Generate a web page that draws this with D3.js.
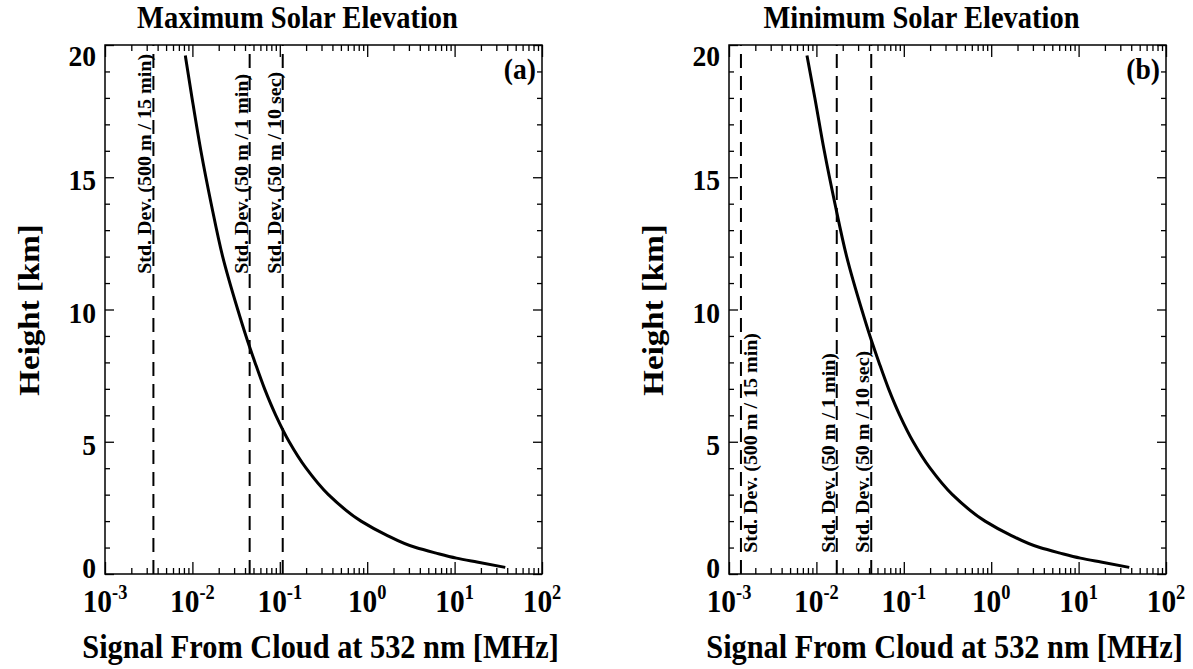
<!DOCTYPE html>
<html>
<head>
<meta charset="utf-8">
<script src="https://cdn.jsdelivr.net/npm/d3@7"></script>
<style>
  body { margin: 0; background: #fff; }
  svg { display: block; }
  svg text { font-family: "Liberation Serif", "Times New Roman", Times, "DejaVu Serif", serif; font-weight: 700; fill: #000; }
</style>
</head>
<body>
<svg id="chart" width="1193" height="669"></svg>
<script>
// heights along the cloud signal curve (km)
const heightsKm = [19.6, 18, 16, 14, 12, 10, 9, 8, 7, 6, 5, 4, 3, 2, 1.5, 1.0, 0.8, 0.6, 0.45, 0.25];
// signal (MHz)
const signalMax = [0.0083, 0.0099, 0.0125, 0.0164, 0.0222, 0.033, 0.041, 0.052, 0.067, 0.09, 0.128, 0.2, 0.36, 0.85, 1.6, 3.6, 6.0, 10.5, 18, 38];
const signalMin = [0.0078, 0.0096, 0.0123, 0.0163, 0.0222, 0.033, 0.041, 0.052, 0.067, 0.09, 0.128, 0.2, 0.36, 0.85, 1.6, 3.6, 6.0, 10.5, 18, 38];
// standard deviation thresholds (MHz)
const stdDevMax = [0.00358, 0.0452, 0.108];
const stdDevMin = [0.00137, 0.0171, 0.0424];
const stdDevLabels = ["Std. Dev. (500 m / 15 min)", "Std. Dev. (50 m / 1 min)", "Std. Dev. (50 m / 10 sec)"];

const decades = [-3, -2, -1, 0, 1, 2];
const heightTicks = [0, 5, 10, 15, 20];
const panelTitles = ["Maximum Solar Elevation", "Minimum Solar Elevation"];
const panelTags = ["(a)", "(b)"];

const svg = d3.select("#chart");

const panels = [
  { left: 105, signal: signalMax, std: stdDevMax, labelFrom: 11.35, firstRight: false },
  { left: 729, signal: signalMin, std: stdDevMin, labelFrom: 0.8, firstRight: true }
];

const plotW = 437, plotTop = 45, plotBottom = 574;
const sx = 0.92; // the original lettering is a little narrow

panels.forEach((p, i) => {
  const g = svg.append("g");
  const x = d3.scaleLog().domain([1e-3, 1e2]).range([p.left, p.left + plotW]);
  const y = d3.scaleLinear().domain([0, 20]).range([plotBottom, plotTop]);

  const minorX = [];
  decades.slice(0, -1).forEach(e => { for (let k = 2; k <= 9; k++) minorX.push(k * Math.pow(10, e)); });
  const majorX = decades.map(e => Math.pow(10, e));
  const minorY = d3.range(0, 21).filter(v => v % 5 !== 0);

  const tickStyle = sel => sel.call(a => a.select(".domain").remove())
    .call(a => a.selectAll("line").attr("stroke", "#000").attr("stroke-width", 1.3));

  // bottom / top axes, ticks pointing inward
  g.append("g").attr("transform", `translate(0,${plotBottom})`)
    .call(d3.axisBottom(x).tickValues(majorX).tickSize(-12).tickFormat("")).call(tickStyle);
  g.append("g").attr("transform", `translate(0,${plotBottom})`)
    .call(d3.axisBottom(x).tickValues(minorX).tickSize(-6).tickFormat("")).call(tickStyle);
  g.append("g").attr("transform", `translate(0,${plotTop})`)
    .call(d3.axisTop(x).tickValues(majorX).tickSize(-12).tickFormat("")).call(tickStyle);
  g.append("g").attr("transform", `translate(0,${plotTop})`)
    .call(d3.axisTop(x).tickValues(minorX).tickSize(-6).tickFormat("")).call(tickStyle);

  // left / right axes
  g.append("g").attr("transform", `translate(${p.left},0)`)
    .call(d3.axisLeft(y).tickValues(heightTicks).tickSize(-9).tickFormat("")).call(tickStyle);
  g.append("g").attr("transform", `translate(${p.left},0)`)
    .call(d3.axisLeft(y).tickValues(minorY).tickSize(-5).tickFormat("")).call(tickStyle);
  g.append("g").attr("transform", `translate(${p.left + plotW},0)`)
    .call(d3.axisRight(y).tickValues(heightTicks).tickSize(-9).tickFormat("")).call(tickStyle);
  g.append("g").attr("transform", `translate(${p.left + plotW},0)`)
    .call(d3.axisRight(y).tickValues(minorY).tickSize(-5).tickFormat("")).call(tickStyle);

  // frame
  g.append("rect")
    .attr("x", p.left).attr("y", plotTop)
    .attr("width", plotW).attr("height", plotBottom - plotTop)
    .attr("fill", "none").attr("stroke", "#000").attr("stroke-width", 1.5);

  // x tick labels 10^n
  const xl = g.append("g").selectAll("text").data(decades).join("text")
    .attr("transform", d => `translate(${x(Math.pow(10, d))},612) scale(${sx},1)`)
    .attr("text-anchor", "middle")
    .style("font-size", "32px");
  xl.append("tspan").text("10");
  xl.append("tspan").attr("dy", -13).style("font-size", "20px").text(d => d);

  // y tick labels
  g.append("g").selectAll("text").data(heightTicks).join("text")
    .attr("transform", d => `translate(${p.left - 9},${y(d) + (d === 20 ? 21 : d === 0 ? 4 : 13)}) scale(${sx},1)`)
    .attr("text-anchor", "end")
    .style("font-size", "30px")
    .text(d => d);

  // std dev lines
  g.append("g").selectAll("line").data(p.std).join("line")
    .attr("x1", d => x(d)).attr("x2", d => x(d))
    .attr("y1", y(0)).attr("y2", y(20))
    .attr("stroke", "#000").attr("stroke-width", 2)
    .attr("stroke-dasharray", "14,8");

  g.append("g").selectAll("text").data(p.std).join("text")
    .attr("transform", (d, j) => {
      const tx = (j === 0 && p.firstRight) ? x(d) + 16 : x(d) - 2;
      return `translate(${tx},${y(p.labelFrom)}) rotate(-90) scale(1,${sx})`;
    })
    .style("font-size", "20px")
    .text((d, j) => stdDevLabels[j]);

  // signal curve
  const line = d3.line()
    .x((d, j) => x(p.signal[j]))
    .y(d => y(d))
    .curve(d3.curveMonotoneY);
  g.append("path")
    .datum(heightsKm)
    .attr("d", line)
    .attr("fill", "none").attr("stroke", "#000").attr("stroke-width", 3);

  // titles
  g.append("text")
    .attr("transform", `translate(${p.left + plotW / 2 - 26},28) scale(${sx},1)`)
    .attr("text-anchor", "middle").style("font-size", "31px")
    .text(panelTitles[i]);
  g.append("text")
    .attr("transform", `translate(${p.left + plotW - 6},79) scale(${sx},1)`)
    .attr("text-anchor", "end").style("font-size", "30px")
    .text(panelTags[i]);
  g.append("text")
    .attr("transform", `translate(${p.left + plotW / 2 - 3},658) scale(${sx},1)`)
    .attr("text-anchor", "middle").style("font-size", "33px")
    .text("Signal From Cloud at 532 nm [MHz]");
  g.append("text")
    .attr("transform", `translate(${p.left - 66},310) rotate(-90) scale(1,${sx})`)
    .attr("text-anchor", "middle").style("font-size", "33px")
    .text("Height [km]");
});
</script>
</body>
</html>
